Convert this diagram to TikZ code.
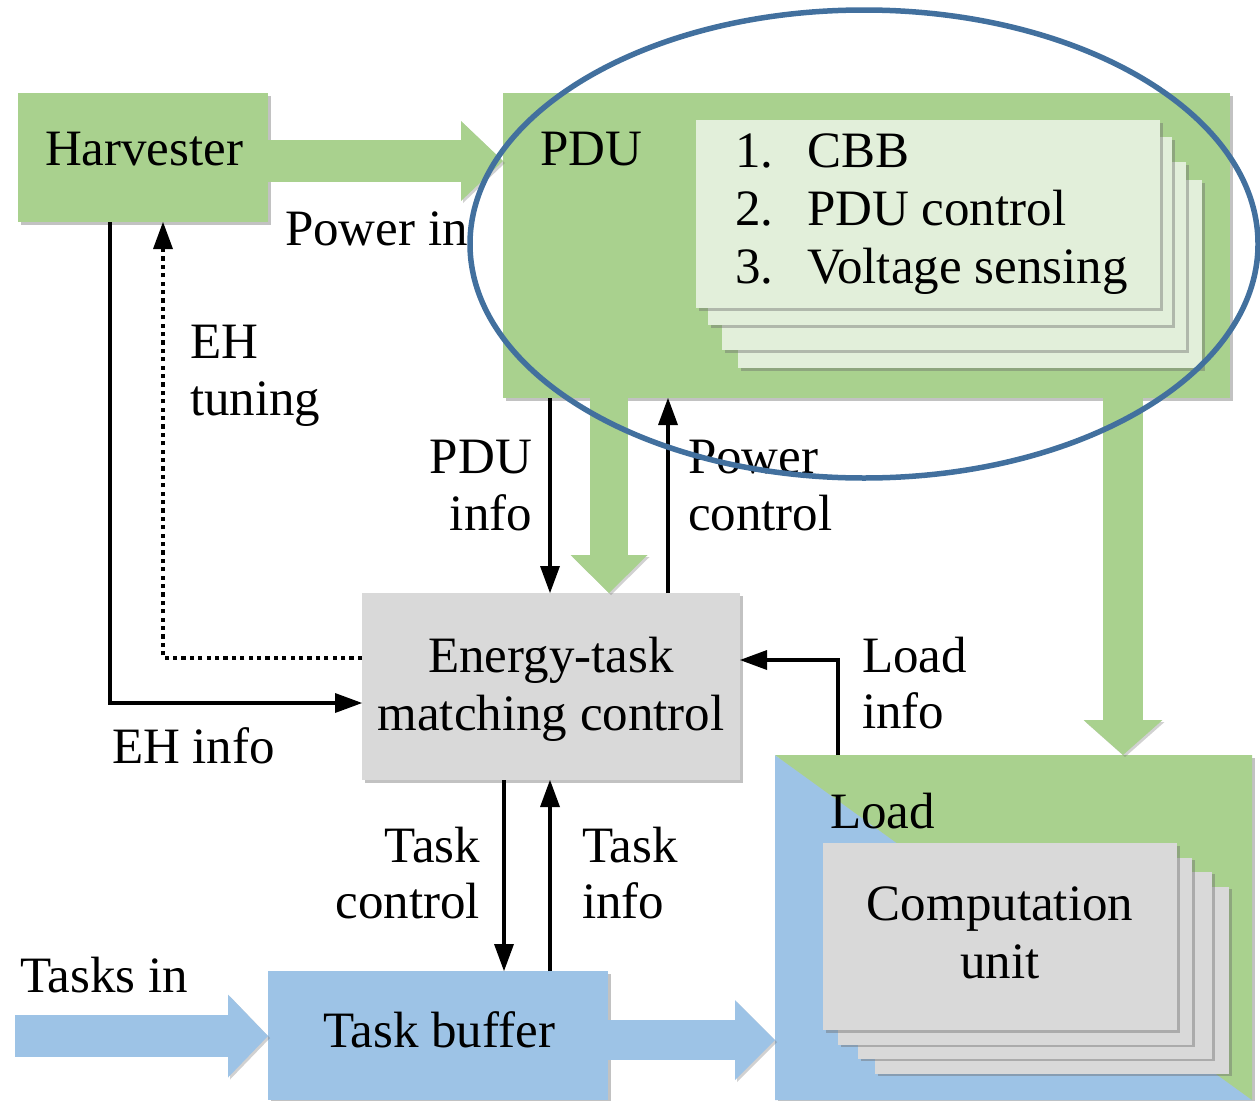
\documentclass[tikz,border=0pt]{standalone}
\usepackage{fontspec}
\setmainfont{Liberation Serif}
\usetikzlibrary{arrows.meta,shadows,shapes.geometric}
\definecolor{pgreen}{RGB}{169,209,142}
\definecolor{pgreenlt}{RGB}{226,239,218}
\definecolor{pblue}{RGB}{157,195,230}
\definecolor{pgray}{RGB}{217,217,217}
\definecolor{ringblue}{RGB}{66,112,158}
\begin{document}
\begin{tikzpicture}[x=1pt, y=-1pt,
  every node/.style={inner sep=0pt, outer sep=0pt, font=\fontsize{51}{58}\selectfont},
  softshadow/.style={drop shadow={shadow xshift=2.5pt, shadow yshift=-2.5pt, opacity=0.4, fill=black!60}},
  box/.style 2 args={rectangle, minimum width=#1, minimum height=#2},
  pducard/.style={box={464pt}{188pt}, fill=pgreenlt, softshadow},
  cucard/.style={box={354pt}{187pt}, fill=pgray, softshadow},
  sig/.style={line width=3.5pt, -{Triangle[length=27pt, width=20pt, line width=0pt]}},
  tuningline/.style={sig, line width=4.2pt, dash pattern=on 4.2pt off 4.2pt},
  fat/.style n args={3}{line width=#1, -{Triangle[length=#2, width=#3, line width=0pt]},
    preaction={draw=black!60, opacity=0.3, transform canvas={xshift=2pt, yshift=-2pt}}},
  lbl/.style={anchor=base west},
  lblr/.style={anchor=base east},
  lblc/.style={anchor=base},
]
\useasboundingbox (0,0) rectangle (1260,1100);

% ---- blocks ----
\node[box={250pt}{129pt}, fill=pgreen, softshadow] (harv) at (143,157.5) {};
\node[box={727pt}{305pt}, fill=pgreen, softshadow] (pdu) at (866.5,245.5) {};
\node[pducard] (pc4) at (970,274) {};
\node[pducard] (pc3) at (954,256) {};
\node[pducard] (pc2) at (940,231) {};
\node[pducard] (pc1) at (928,214) {};
\node[box={378pt}{187pt}, fill=pgray, softshadow] (etmc) at (551,686.5) {};
\node[box={340pt}{129pt}, fill=pblue, softshadow] (buf) at (438,1035.5) {};

% load block, split along its diagonal
\node[box={477pt}{345pt}, softshadow] (load) at (1013.5,927.5) {};
\fill[pblue] (load.north west) -- (load.south east) -- (load.south west) -- cycle;
\fill[pgreen] (load.north west) -- (load.north east) -- (load.south east) -- cycle;
\node[cucard] (cu4) at (1052,980) {};
\node[cucard] (cu3) at (1035,965) {};
\node[cucard] (cu2) at (1015,951) {};
\node[cucard] (cu1) at (1000,936.5) {};

% ---- guide coordinates for connectors ----
\coordinate (xEH) at (110,0);  \coordinate (yEH) at (0,703);
\coordinate (xTu) at (163,0);  \coordinate (yTu) at (0,658);
\coordinate (xPi) at (550,0);  \coordinate (xPw) at (609,0);
\coordinate (xPc) at (668,0);  \coordinate (xLd) at (1123,0);
\coordinate (xLi) at (838,0);  \coordinate (yLi) at (0,660);
\coordinate (xTc) at (504,0);  \coordinate (xTi) at (550,0);
\coordinate (yHv) at (0,161);  \coordinate (yTin) at (0,1036);
\coordinate (yTout) at (0,1040);
\coordinate (tin) at (15,1036);

% ---- power and task flows ----
\draw[fat={42pt}{42pt}{80pt}, pgreen] (harv.east |- yHv) -- (pdu.west |- yHv);
\draw[fat={38pt}{38pt}{77pt}, pgreen] (pdu.south -| xPw) -- (etmc.north -| xPw);
\draw[fat={40pt}{35pt}{79pt}, pgreen] (pdu.south -| xLd) -- (load.north -| xLd);
\draw[fat={42pt}{40pt}{83pt}, pblue] (tin) -- (buf.west |- yTin);
\draw[fat={40pt}{40pt}{80pt}, pblue] (buf.east |- yTout) -- (load.west |- yTout);

% ---- control and information signals ----
\draw[sig] (harv.south -| xEH) |- (etmc.west |- yEH);
\draw[tuningline] (etmc.west |- yTu) -| (harv.south -| xTu);
\draw[sig] (pdu.south -| xPi) -- (etmc.north -| xPi);
\draw[sig] (etmc.north -| xPc) -- (pdu.south -| xPc);
\draw[sig] (load.north -| xLi) |- (etmc.east |- yLi);
\draw[sig] (etmc.south -| xTc) -- (buf.north -| xTc);
\draw[sig] (buf.north -| xTi) -- (etmc.south -| xTi);

% ---- texts ----
\node[lbl] (tharv) at (45,165) {Harvester};
\node[lbl] (tpin) at (285,245) {Power in};
\node[lbl] (tpdu) at (540,165) {PDU};
\node[lbl] (n1) at (735,167) {1.};
\node[lbl] (n2) at (735,225) {2.};
\node[lbl] (n3) at (735,283) {3.};
\node[lbl] (i1) at (807,167) {CBB};
\node[lbl] (i2) at (807,225) {PDU control};
\node[lbl] (i3) at (807,283) {Voltage sensing};
\node[lbl] (teh1) at (190,358) {EH};
\node[lbl] (teh2) at (190,415) {tuning};
\node[lblr] (tpi1) at (532,473) {PDU};
\node[lblr] (tpi2) at (532,530) {info};
\node[lbl] (tpc1) at (688,473) {Power};
\node[lbl] (tpc2) at (688,530) {control};
\node[lblc] (te1) at (551,672) {Energy-task};
\node[lblc] (te2) at (551,730) {matching control};
\node[lbl] (tli1) at (862,672) {Load};
\node[lbl] (tli2) at (862,728) {info};
\node[lbl] (tehi) at (112,763) {EH info};
\node[lbl] (tload) at (830,828) {Load};
\node[lblc] (tcu1) at (1000,920) {Computation};
\node[lblc] (tcu2) at (1000,978) {unit};
\node[lblr] (ttc1) at (480,862) {Task};
\node[lblr] (ttc2) at (480,918) {control};
\node[lbl] (tti1) at (582,862) {Task};
\node[lbl] (tti2) at (582,918) {info};
\node[lbl] (ttin) at (20,992) {Tasks in};
\node[lblc] (tbuf) at (439,1047) {Task buffer};

% ---- highlight ring around the PDU ----
\node[draw=ringblue, line width=5.5pt, ellipse, minimum width=788pt, minimum height=468pt] (ring) at (864,244) {};
\end{tikzpicture}
\end{document}
